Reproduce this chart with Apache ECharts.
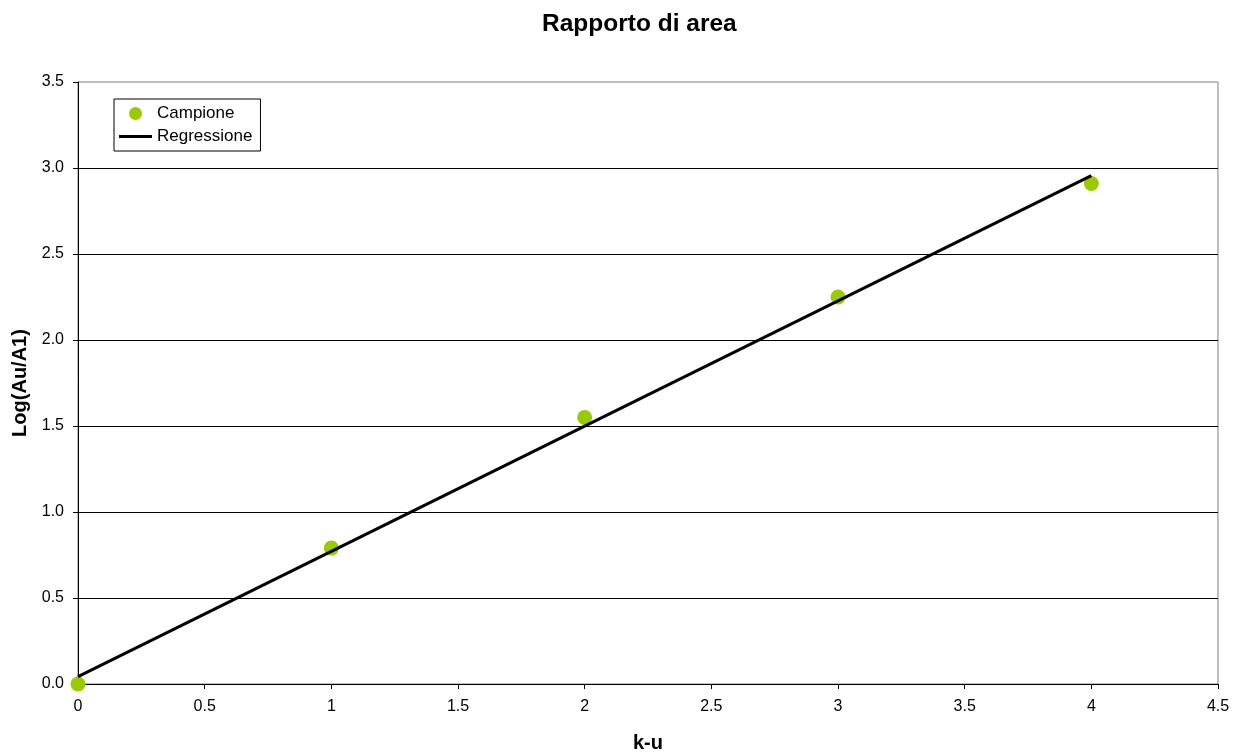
<!DOCTYPE html>
<html>
<head>
<meta charset="utf-8">
<script src="https://cdn.jsdelivr.net/npm/echarts@6/dist/echarts.min.js"></script>
<style>html,body{margin:0;padding:0;background:#fff}#c{width:1246px;height:755px}</style>
</head>
<body>
<div id="c"></div>
<script>
const sampleX = [0, 1, 2, 3, 4];
const sampleY = [0.0, 0.79, 1.55, 2.25, 2.91];
const regX = [0, 4];
const regY = [0.043, 2.956];
const titleText = 'Rapporto di area';
const xName = 'k-u';
const yName = 'Log(Au/A1)';

const chart = echarts.init(document.getElementById('c'));
const font = 'Liberation Sans, Arial, sans-serif';
chart.setOption({
  backgroundColor: '#fff',
  animation: false,
  title: { text: titleText, left: 537, top: 7,
    textStyle: { fontFamily: font, fontSize: 24.5, fontWeight: 'bold', color: '#000' } },
  legend: {
    orient: 'vertical', left: 114, top: 99,
    backgroundColor: '#fff', borderColor: '#000', borderWidth: 1,
    padding: [6, 8, 6, 5], itemGap: 6, itemWidth: 33, itemHeight: 13,
    textStyle: { fontFamily: font, fontSize: 17, color: '#000' },
    data: [{ name: 'Campione', icon: 'circle' },
           { name: 'Regressione', icon: 'path://M0,0 L33,0 L33,3 L0,3 Z' }]
  },
  grid: { left: 78, right: 28, top: 82, bottom: 71, containLabel: false, outerBoundsMode: 'none',
    show: true, borderColor: '#808080', borderWidth: 1 },
  xAxis: {
    type: 'value', min: 0, max: 4.5, interval: 0.5,
    name: xName, nameLocation: 'middle', nameGap: 49,
    nameTextStyle: { fontFamily: font, fontSize: 20, fontWeight: 'bold', color: '#000' },
    axisLine: { lineStyle: { color: '#000', width: 1 } },
    axisTick: { show: true, length: 5, lineStyle: { color: '#000' } },
    axisLabel: { fontFamily: font, fontSize: 16, color: '#000', margin: 15 },
    splitLine: { show: false }
  },
  yAxis: {
    type: 'value', min: 0, max: 3.5, interval: 0.5,
    name: yName, nameLocation: 'middle', nameGap: 48,
    nameTextStyle: { fontFamily: font, fontSize: 20, fontWeight: 'bold', color: '#000' },
    axisLine: { show: true, lineStyle: { color: '#000', width: 1 } },
    axisTick: { show: true, length: 5, lineStyle: { color: '#000' } },
    axisLabel: { fontFamily: font, fontSize: 16, color: '#000', margin: 14, formatter: v => v.toFixed(1) },
    splitLine: { show: true, showMaxLine: false, lineStyle: { color: '#000', width: 1 } }
  },
  series: [
    { name: 'Regressione', type: 'line', symbol: 'none', z: 3,
      lineStyle: { color: '#000', width: 3 }, itemStyle: { color: '#000' },
      data: regX.map((x, i) => [x, regY[i]]) },
    { name: 'Campione', type: 'scatter', symbol: 'circle', symbolSize: 15, z: 2,
      itemStyle: { color: '#99CC00', opacity: 1 },
      data: sampleX.map((x, i) => [x, sampleY[i]]) }
  ]
});
</script>
</body>
</html>
